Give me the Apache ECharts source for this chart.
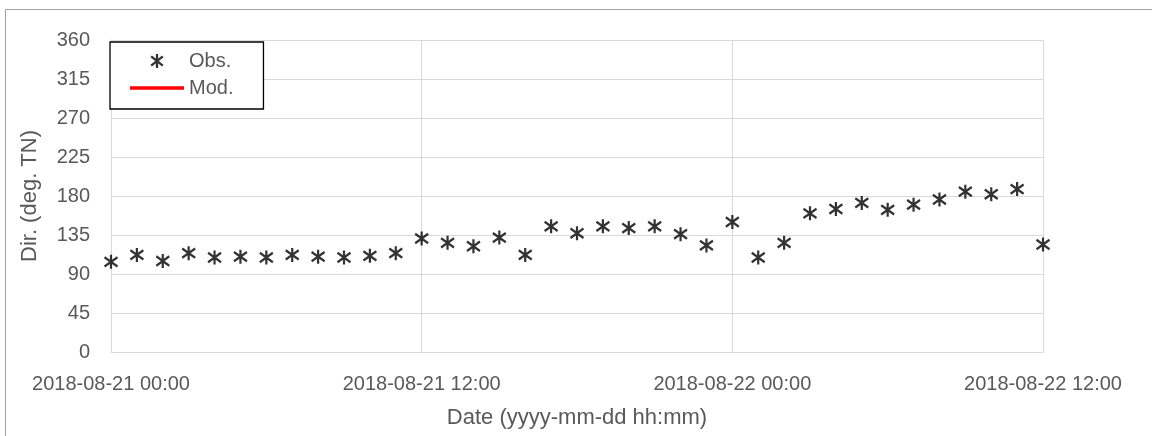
<!DOCTYPE html>
<html>
<head>
<meta charset="utf-8">
<script src="https://cdn.jsdelivr.net/npm/echarts@6/dist/echarts.min.js"></script>
<style>
html,body{margin:0;padding:0;background:#fff;}
#chart{width:1152px;height:436px;}
</style>
</head>
<body>
<div id="chart"></div>
<script>
// Hours since 2018-08-21 00:00
const hours = [0,1,2,3,4,5,6,7,8,9,10,11,12,13,14,15,16,17,18,19,20,21,22,23,24,25,26,27,28,29,30,31,32,33,34,35,36];
// Observed direction (deg. TN)
const obsDir = [104,112,105,114,109,110,109,112,110,109,111,114,131,126,122,132,112,145,137,145,143,145,136,123,150,109,126,160,165,172,164,170,176,185,182,188,124];
// Modelled direction (no values shown)
const modDir = [];
const xTickLabels = ['2018-08-21 00:00','2018-08-21 12:00','2018-08-22 00:00','2018-08-22 12:00'];
const yTicks = [0,45,90,135,180,225,270,315,360];

const FONT = 'Liberation Sans';
const TXT = '#595959';
const GRID = '#d9d9d9';
const starPath = 'path://M5,0L5,12M0,2L10,10M0,10L10,2';
const linePath = 'path://M0,0L54,0L54,3.5L0,3.5Z';

const chart = echarts.init(document.getElementById('chart'), null, {renderer:'canvas'});
chart.setOption({
  animation:false,
  backgroundColor:'#fff',
  textStyle:{fontFamily:FONT},
  graphic:[{
    type:'rect', silent:true, z:-10,
    shape:{x:5.5, y:9.5, width:1300, height:600},
    style:{fill:'none', stroke:'#a0a0a0', lineWidth:1}
  }],
  grid:{left:111, right:109, top:40, bottom:84, containLabel:false},
  legend:{
    orient:'vertical', left:110, top:42,
    padding:[8,30,10,20],
    itemGap:5, itemWidth:54, itemHeight:14,
    backgroundColor:'#fff', borderColor:'#000', borderWidth:1.3,
    textStyle:{fontFamily:FONT, fontSize:20, color:TXT, lineHeight:22},
    data:[
      {name:'Obs.', icon:starPath, itemStyle:{color:'rgba(0,0,0,0)', borderColor:'#000', borderWidth:2.3}},
      {name:'Mod.', icon:linePath, itemStyle:{color:'#ff0000', borderWidth:0}}
    ],
    z:10
  },
  xAxis:{
    type:'value', min:0, max:36, interval:12,
    name:'Date (yyyy-mm-dd hh:mm)', nameLocation:'middle', nameGap:55,
    nameTextStyle:{fontFamily:FONT, fontSize:22, color:TXT},
    axisLine:{show:true, lineStyle:{color:GRID, width:1}},
    axisTick:{show:false},
    splitLine:{show:true, lineStyle:{color:GRID, width:1}},
    axisLabel:{
      fontFamily:FONT, fontSize:20, color:TXT, margin:22,
      formatter:(v)=>xTickLabels[Math.round(v/12)] || ''
    }
  },
  yAxis:{
    type:'value', min:0, max:360, interval:45,
    name:'Dir. (deg. TN)', nameLocation:'middle', nameGap:70, nameRotate:90,
    nameTextStyle:{fontFamily:FONT, fontSize:22, color:TXT},
    axisLine:{show:true, lineStyle:{color:GRID, width:1}},
    axisTick:{show:false},
    splitLine:{show:true, lineStyle:{color:GRID, width:1}},
    axisLabel:{fontFamily:FONT, fontSize:20, color:TXT, margin:21,
      formatter:(v)=> yTicks.includes(v) ? String(v) : ''}
  },
  series:[
    {
      name:'Obs.', type:'scatter',
      symbol:starPath, symbolSize:[13,14],
      itemStyle:{color:'rgba(0,0,0,0)', borderColor:'#000', borderWidth:2.3},
      data: hours.map((h,i)=>[h, obsDir[i]]),
      z:3
    },
    {
      name:'Mod.', type:'line', symbol:'none', showSymbol:false,
      color:'#ff0000',
      lineStyle:{color:'#ff0000', width:3.5},
      data: modDir
    }
  ]
});
</script>
</body>
</html>
